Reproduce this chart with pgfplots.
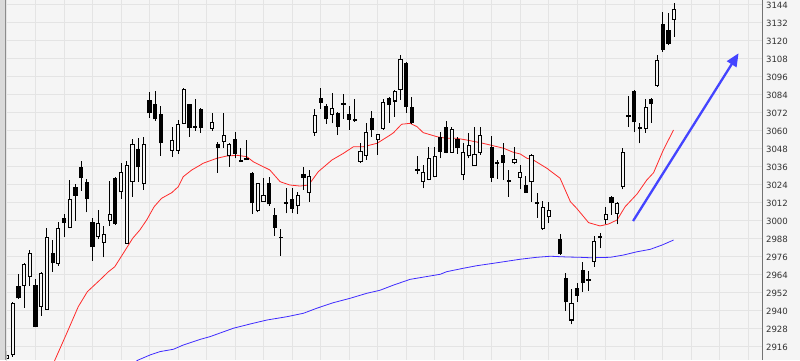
\documentclass[border=0pt]{standalone}
\usepackage{fontspec}
\setmainfont{DejaVu Sans}
\usepackage{pgfplots}
\pgfplotsset{compat=1.18}
\usepackage{pgfplotstable}
\usetikzlibrary{arrows.meta}
\definecolor{bgc}{HTML}{F5F5F5}
\definecolor{gridc}{HTML}{E4E4E4}
\definecolor{stripc}{HTML}{DADADA}
\definecolor{redline}{HTML}{FF2A2A}
\definecolor{blueline}{HTML}{3F2BFF}
\definecolor{arrowc}{HTML}{4444FF}

\pgfplotstableread{
i O H L C
0 2908.5 2913 2906 2910.5
1 2910.7 2946 2909.5 2945.1
3 2957 2972 2942.2 2971.1
4 2963.1 2980.7 2956.7 2978.4
6 2943.1 2965.8 2936.9 2964.7
7 2941.3 2995.3 2940.7 2989.1
9 2971.8 2999.6 2970.2 2995.1
11 2995.6 3027.3 2995 3014.4
16 2989.5 3007.3 2988 2998.5
17 2985.8 2996.7 2975.8 2990.7
18 3000.2 3026.7 2996.9 3004.4
20 3019.5 3038.9 3014.7 3032.5
21 2985.1 3040 2984.8 3036.7
22 3026.2 3054.5 3016.2 3051.1
24 3025.1 3056.2 3020.7 3051.1
29 3047.3 3062.5 3042.5 3053.5
30 3047.3 3067.3 3044.7 3064.5
31 3065.1 3088.9 3064.5 3087.8
36 3061.8 3071.8 3060.2 3065.8
38 3052.9 3071.8 3048.5 3056.7
39 3043.5 3051.8 3036.2 3050.7
44 3006.9 3025.6 3005.8 3025.1
45 3012.9 3028.5 3012.5 3016.9
51 3010.2 3019.1 3004.5 3016.7
53 3019.1 3034 3012.9 3029.5
54 3059.1 3074.7 3056.9 3070.2
57 3071.1 3085.1 3065.1 3075.1
62 3039.7 3051.8 3038.5 3046.5
63 3043.7 3065 3040.7 3059.1
65 3054.5 3058 3044 3057.8
66 3061.8 3081.1 3060.7 3079.1
68 3080 3087.3 3069.5 3086.2
69 3087.8 3110.7 3080.7 3107.8
73 3026.2 3037.3 3021.8 3032.2
74 3027.8 3049.1 3027 3041.8
75 3029.5 3049.5 3029 3043.3
78 3045.8 3062.9 3045.5 3060.7
80 3031.1 3051.8 3027.3 3045.8
81 3043.5 3058.5 3041.8 3050.2
82 3036.9 3062.9 3036.5 3044.5
83 3045.8 3062.9 3044 3057.3
89 3038.9 3049.5 3037.8 3040.7
90 3029.1 3037.3 3021.1 3032.2
92 3026.2 3044.7 3012.9 3043.5
94 2994.7 3013.3 2994 3009.1
95 3003.3 3012.9 2998.5 3006.9
99 2934 2954.5 2931.1 2945.1
103 2973.3 2990 2969.5 2986.2
105 3001.1 3009.5 2997.7 3004.4
107 3005.1 3012.9 2997.8 3011.8
108 3023.3 3048.5 3021.1 3045.8
112 3061.8 3081.1 3058.9 3075.8
114 3090.2 3110.7 3089.5 3107.3
117 3134.5 3145.1 3122.9 3141.1
}\upc

\pgfplotstableread{
i O H L C
2 2956.7 2964.5 2948 2948.4
5 2957.3 2961.1 2929 2929.2
8 2978.4 2987.3 2966.2 2971.8
10 3001.8 3004.5 2989.5 2998.5
12 3022.4 3024.7 3000.2 3016.9
13 3036.2 3040 3020.2 3028.5
14 3026.2 3028 3005.8 3014.7
15 2999.6 3001.8 2973.5 2982.5
19 3028.5 3029.6 2997.5 2998
23 3047.8 3055.5 3026.2 3035.8
25 3080.7 3085.8 3068.9 3071.8
26 3077.8 3086.7 3066.9 3067.8
27 3071.1 3076.9 3043.5 3051.8
32 3077.8 3078.2 3056.2 3061.8
33 3063.3 3081.3 3060.2 3062.2
34 3074.7 3075.5 3058.9 3061.8
37 3051.3 3052.9 3032.2 3048.9
40 3054.7 3059.1 3041.8 3044.5
41 3040.2 3048.5 3039.3 3039.5
42 3041.5 3054 3040.5 3040.7
43 3031.8 3032.9 3004.5 3011.8
46 3025.1 3029.1 3010.2 3011.1
47 3004 3008.5 2990 2995.5
48 2989.5 2994.5 2976.7 2988.5
49 3012.5 3021.8 3005.1 3011.5
50 3014.5 3022.2 3005.1 3008
52 3031.3 3036.2 3020.7 3028.9
55 3081.8 3088.5 3074.7 3078.5
56 3076.9 3078 3064.7 3067.8
58 3071.8 3072.5 3057.3 3062.5
59 3078.5 3084.5 3068 3077.6
60 3071.2 3076.8 3060.7 3067.5
61 3067.5 3081 3066 3066.6
64 3068.5 3073.3 3056.2 3060.5
67 3081.8 3082.9 3065.5 3077.3
70 3105.1 3106 3072.2 3076.2
71 3076.2 3082.9 3064.5 3065.5
72 3034.7 3043.3 3031.1 3033.7
76 3056.2 3059.5 3041.8 3046.2
77 3062.9 3066.9 3045 3045.5
79 3054.5 3056.2 3044.7 3048.5
85 3049.5 3056.7 3026.2 3028.9
86 3039.1 3040.7 3028 3038.3
87 3044 3051.8 3027.3 3038.5
88 3027 3034 3016.2 3026.3
91 3024 3030 3018.5 3018.9
93 3012.6 3018.9 3002.2 3011.8
97 2988 2991.1 2977.3 2977.8
98 2961.8 2965.1 2940.2 2945.8
100 2955.1 2958.5 2946.2 2950.2
101 2967.3 2972.9 2952.9 2958.5
102 2961.1 2966.9 2953.5 2960.3
104 2989.5 2992.2 2981.8 2988.8
106 3016.2 3016.5 3004 3011.8
109 3070.4 3083.3 3062.5 3069.6
110 3086.7 3087.3 3059.1 3065.8
111 3062.2 3065.5 3051.8 3061.4
113 3081.3 3082.2 3065.5 3077.8
115 3131.3 3139.1 3112.9 3114
116 3127.3 3138.9 3117.3 3117.8
}\downc

\pgfplotstableread{
i v
8 2903
8.4 2907.3
10.47 2925.1
12.5 2942.9
14.1 2952.9
16.3 2960.7
17.8 2966.2
18.9 2969.5
20.4 2978.5
22.05 2988.5
23.3 2994
24.5 3000.7
25.8 3009.5
27.1 3015.1
28.9 3018.9
30.05 3022.9
30.9 3029.5
32.4 3034
33.9 3037.3
34.4 3038.5
36.8 3041.8
38.5 3043.3
40.3 3043.8
42.05 3042.9
43.2 3039.5
46.1 3034
47.9 3026.2
49.6 3024
51.4 3023.3
52.9 3024
54.6 3032.9
57 3040.7
59 3045.1
60.75 3049.5
62.5 3049.5
64.9 3051.8
67.2 3057.3
67.8 3058.9
69.2 3064.5
70.7 3065.1
71.9 3062.9
73 3058.9
75.4 3056.2
77.1 3055.1
78.9 3055.1
80.6 3054
83 3052.2
84.7 3050.7
87.1 3048.5
88.8 3045.8
90 3044.7
91.2 3041.8
92.3 3040.7
94.7 3035.1
97 3028.5
98.8 3012.9
99.9 3008.5
102 2998.9
104 2996.7
105.5 2998
107 3000.7
108.4 3009.5
110.5 3018
112.2 3027.3
113.4 3032.2
115.1 3047.3
116.9 3060.7
}\redma

\pgfplotstableread{
i v
22 2905
23 2907.3
25.1 2910.7
26.8 2912.9
29.2 2914.5
30.9 2917.3
33.9 2921.1
35.6 2922.9
39.7 2928.5
42.6 2931.3
45.6 2934
49.1 2936.2
52 2938.5
54.3 2941.8
57.2 2945.5
60.2 2948.5
63.1 2951.8
65.4 2953.8
67.8 2957.3
70.7 2961.1
76 2964.5
77.1 2966.2
80.05 2968.5
82.4 2970.2
85.3 2971.8
90 2974.5
92.9 2975.8
95.3 2976.5
98.2 2976
100.5 2975.8
102.3 2975.5
105.8 2975.8
108.1 2977.3
110.5 2979.5
112.8 2981.1
114.9 2984
116.9 2987.3
}\bluema

\pgfplotsset{
  candle/.style 2 args={draw=none, mark=none, forget plot,
    error bars/.cd, y dir=plus, y explicit, error mark=none,
    error bar style={draw=#1, line width=#2}},
}

\begin{document}
\begin{tikzpicture}
\fill[bgc, use as bounding box] (-7pt,0) rectangle (793pt,360pt);
\fill[stripc] (-7pt,0) rectangle (-1pt,360pt);
\draw[black!45, line width=0.6pt] (-1.3pt,0) -- (-1.3pt,360pt);
\begin{axis}[
  at={(0pt,0pt)}, anchor=south west,
  scale only axis, width=755.5pt, height=360pt,
  xmin=0, xmax=132.5, ymin=2907.33, ymax=3147.33,
  axis x line*=bottom, axis y line*=right,
  x axis line style={draw=none},
  y axis line style={draw=black!55, line width=0.8pt},
  axis background/.style={fill=bgc},
  xtick={0,5,...,130}, xticklabels={},
  ytick={2916,2928,...,3144},
  grid=major, major grid style={draw=gridc, line width=1pt},
  major tick length=0pt,
  /pgf/number format/1000 sep={},
  /pgf/number format/assume math mode=true,
  yticklabel style={font=\fontsize{8.6}{10}\selectfont, text=black!80, anchor=west, xshift=0pt},
  clip=true,
]
% moving averages
\addplot[redline, line width=0.8pt, mark=none] table[x=i, y=v] {\redma};
\addplot[blueline, line width=0.8pt, mark=none] table[x=i, y=v] {\bluema};
% wicks
\addplot[candle={black}{1pt}]
  table[x=i, y=L, y error expr=\thisrow{H}-\thisrow{L}] {\upc};
\addplot[candle={black}{1pt}]
  table[x=i, y=L, y error expr=\thisrow{H}-\thisrow{L}] {\downc};
% down bodies (filled black)
\addplot[candle={black}{4.2pt}]
  table[x=i, y expr={0.5*(\thisrow{O}+\thisrow{C})-0.5*max(abs(\thisrow{C}-\thisrow{O}),1.3)},
        y error expr={max(abs(\thisrow{C}-\thisrow{O}),1.3)}] {\downc};
% up bodies (hollow)
\addplot[candle={black}{4.2pt}]
  table[x=i, y expr={min(\thisrow{O},\thisrow{C})-0.35},
        y error expr={abs(\thisrow{C}-\thisrow{O})+0.7}] {\upc};
\addplot[candle={bgc}{2.2pt}]
  table[x=i, y expr={min(\thisrow{O},\thisrow{C})+0.35},
        y error expr={max(abs(\thisrow{C}-\thisrow{O})-0.7,0.01)}] {\upc};
% trend arrow
\addplot[arrowc, line width=2.3pt, -{Triangle[length=13pt, width=11pt]}]
  coordinates {(109.8,3000) (128.3,3111.8)};
\end{axis}
\end{tikzpicture}
\end{document}
